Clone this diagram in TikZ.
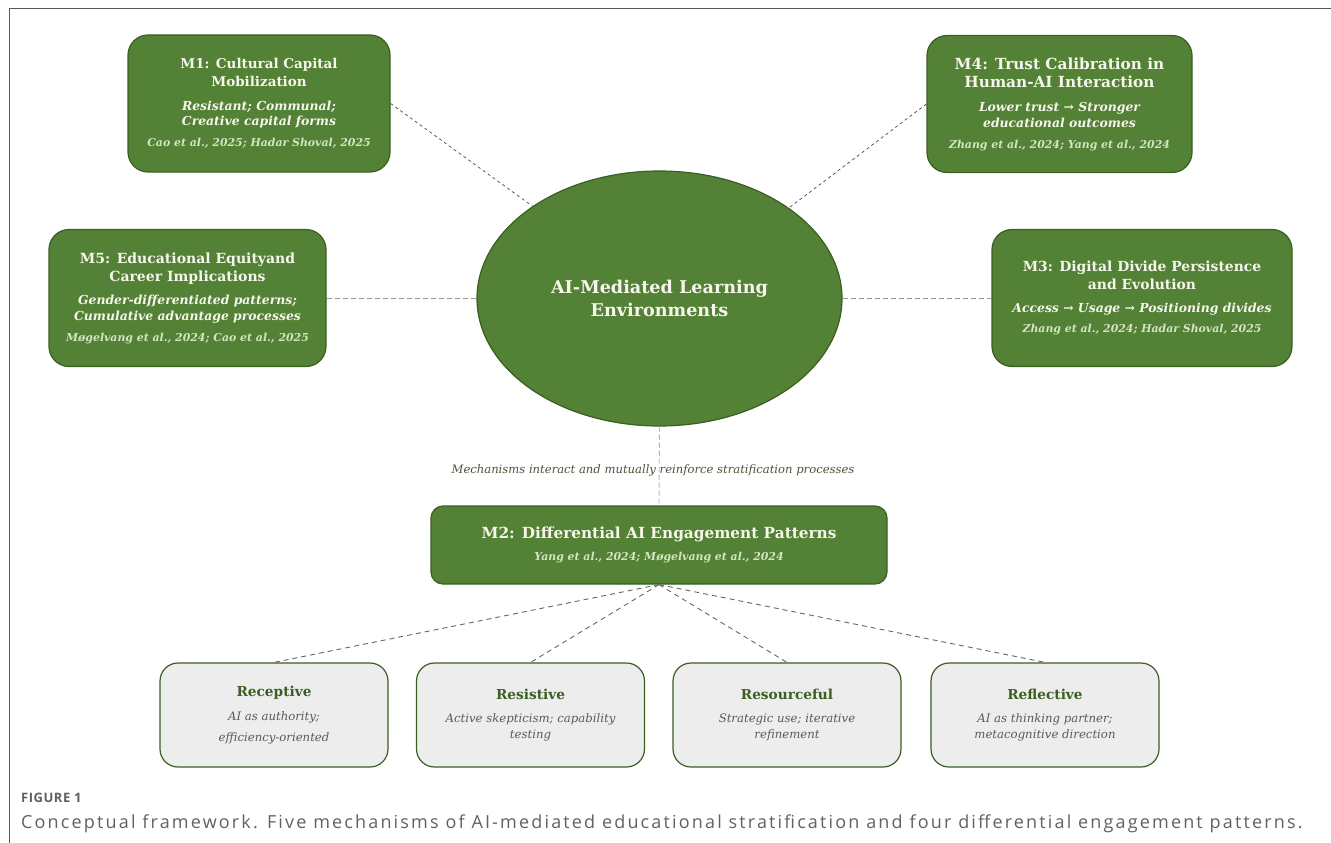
\documentclass[tikz,border=0pt]{standalone}
\usepackage{fontspec}
\setmainfont{DejaVu Serif}
\newfontfamily\capfont[LetterSpace=12]{Open Sans}
\newfontfamily\figfont[LetterSpace=4]{Open Sans}
\usepackage{tikz}
\usetikzlibrary{positioning, shapes.geometric}
\definecolor{mgreen}{HTML}{538135}
\definecolor{mborder}{HTML}{3B5E22}
\definecolor{mtext}{HTML}{F6F6EC}
\definecolor{mref}{HTML}{D3E5C2}
\definecolor{pfill}{HTML}{EDEDED}
\definecolor{ptext}{HTML}{5A5A5A}
\definecolor{olivegray}{HTML}{45553A}
\definecolor{capgray}{HTML}{5C6069}
\newcommand\subtxt{\bfseries\itshape\fontsize{12.4}{15}\selectfont}
\newcommand\reftxt{\bfseries\itshape\fontsize{10.9}{14}\selectfont\color{mref}}
\newcommand\pattxt{\bfseries\upshape\fontsize{13.7}{16}\selectfont\color{mborder}}

\begin{document}
\begin{tikzpicture}[
  x=1pt, y=-1pt,
  mech/.style={rectangle,rounded corners=20pt,draw=mborder,line width=1.2pt,fill=mgreen,
    text=mtext,align=center,inner sep=0pt,minimum height=137pt,
    font=\bfseries\fontsize{13.5}{18}\selectfont},
  hub/.style={ellipse,draw=mborder,line width=1.2pt,fill=mgreen,text=mtext,align=center,
    minimum width=365pt,minimum height=255pt,inner sep=0pt,
    font=\bfseries\fontsize{17.6}{23}\selectfont},
  pattern/.style={rectangle,rounded corners=18pt,draw=mborder,line width=1.2pt,fill=pfill,
    align=center,inner sep=0pt,minimum width=228pt,minimum height=104pt,
    font=\itshape\fontsize{11.7}{16}\selectfont,text=ptext},
  link/.style={dash pattern=on 3pt off 3pt,draw=black!65,line width=0.8pt},
  side/.style={dash pattern=on 5pt off 3pt,draw=black!40,line width=0.9pt},
  fan/.style={dash pattern=on 5pt off 4pt,draw=black!60,line width=0.9pt}
]
  \useasboundingbox (0,0) rectangle (1331,843);
  \draw[black!65,line width=1pt] (1331,9) -- (9,9) -- (9,843);

  \node[hub] (ai) at (659.5,298.5) {AI-Mediated Learning\\Environments};

  \node[mech,minimum width=262pt] (m1) at (259,103.5)
    {M1: Cultural Capital\\Mobilization\\[6pt]
     {\subtxt Resistant; Communal;}\\[-3pt]{\subtxt Creative capital forms}\\[3pt]
     {\reftxt Cao et al., 2025; Hadar Shoval, 2025}};
  \node[mech,minimum width=265pt,font=\bfseries\fontsize{15.3}{18}\selectfont] (m4) at (1059.5,104)
    {M4: Trust Calibration in\\Human-AI Interaction\\[6pt]
     {\subtxt Lower trust → Stronger}\\[-2pt]{\subtxt educational outcomes}\\[3pt]
     {\reftxt Zhang et al., 2024; Yang et al., 2024}};
  \node[mech,minimum width=277pt,font=\bfseries\fontsize{14}{18}\selectfont] (m5) at (187.5,298)
    {M5: Educational Equityand\\Career Implications\\[5pt]
     {\subtxt Gender-differentiated patterns;}\\[-2pt]{\subtxt Cumulative advantage processes}\\[3pt]
     {\reftxt Møgelvang et al., 2024; Cao et al., 2025}};
  \node[mech,minimum width=300pt,font=\bfseries\fontsize{13.9}{18}\selectfont] (m3) at (1142,298)
    {M3: Digital Divide Persistence\\and Evolution\\[5pt]
     {\subtxt Access → Usage → Positioning divides}\\[2pt]
     {\reftxt Zhang et al., 2024; Hadar Shoval, 2025}};
  \node[mech,rounded corners=12pt,minimum width=456pt,minimum height=78pt,
    font=\bfseries\fontsize{15.3}{22}\selectfont] (m2) at (659,545)
    {M2: Differential AI Engagement Patterns\\
     {\reftxt Yang et al., 2024; Møgelvang et al., 2024}};

  \draw[link] (m1.east) -- (ai.144);
  \draw[link] (m4.west) -- (ai.35);
  \draw[side] (m5.east) -- (m5.east -| ai.west);
  \draw[side] (m3.west -| ai.east) -- (m3.west);
  \draw[side,draw=black!30] (ai.south) -- (m2.north);

  \node[font=\itshape\fontsize{11.6}{14}\selectfont,text=olivegray] (note) at (653,470)
    {Mechanisms interact and mutually reinforce stratification processes};

  \node[pattern] (rec) at (274,715)
    {{\pattxt Receptive}\\[8pt]AI as authority;\\[5pt]efficiency-oriented};
  \node[pattern] (res) at (530.5,715)
    {{\pattxt Resistive}\\[7pt]Active skepticism; capability\\testing};
  \node[pattern] (rsf) at (787,715)
    {{\pattxt Resourceful}\\[7pt]Strategic use; iterative\\refinement};
  \node[pattern] (ref) at (1045,715)
    {{\pattxt Reflective}\\[7pt]AI as thinking partner;\\metacognitive direction};

  \foreach \p in {rec,res,rsf,ref}
    \draw[fan] (m2.south) -- (\p.north);

  \node[anchor=base west,font=\figfont\bfseries\fontsize{13}{16}\selectfont,text=capgray,inner sep=0pt] (fig) at (21,802) {FIGURE 1};
  \node[anchor=base west,font=\capfont\fontsize{18}{22}\selectfont,text=black!62,inner sep=0pt] (cap) at (21,828)
    {Conceptual framework. Five mechanisms of AI-mediated educational stratification and four differential engagement patterns.};
\end{tikzpicture}
\end{document}
